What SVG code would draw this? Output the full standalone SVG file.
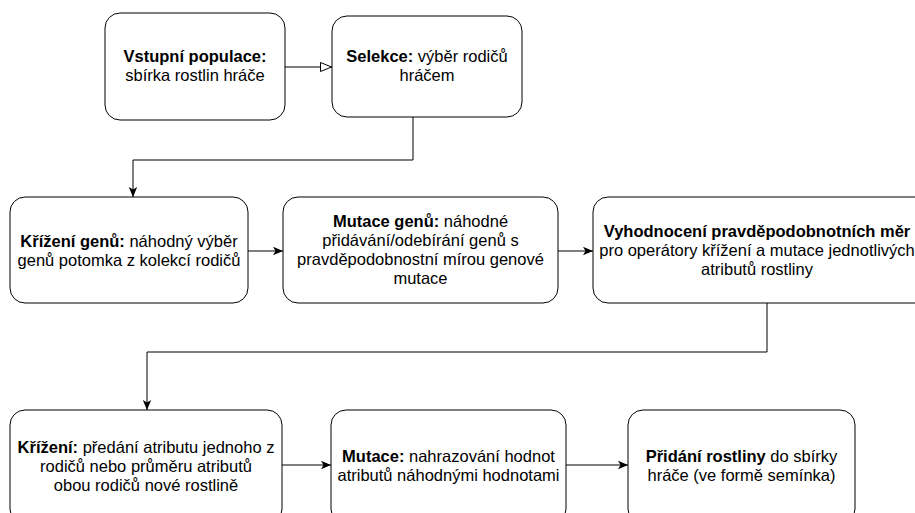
<svg xmlns="http://www.w3.org/2000/svg" width="915" height="513" viewBox="0 0 915 513">
<style>
.n{fill:#fff;stroke:#000;stroke-width:1}
.t{font-family:"Liberation Sans",Arial,sans-serif;font-size:16.5px;fill:#000;text-anchor:middle}
.b{font-weight:bold}
.e{fill:none;stroke:#000;stroke-width:1}
</style>
<defs>
<marker id="open" viewBox="0 0 12 10" refX="12" refY="5" markerWidth="12" markerHeight="10" markerUnits="userSpaceOnUse" orient="auto">
<path d="M0.5,0.5 L11.5,5 L0.5,9.5 Z" fill="#fff" stroke="#000" stroke-width="1"/>
</marker>
<marker id="cls" viewBox="0 0 10 10" refX="10" refY="5" markerWidth="10" markerHeight="10" markerUnits="userSpaceOnUse" orient="auto">
<path d="M0,0.8 L10,5 L0,9.2 L2.5,5 Z" fill="#000"/>
</marker>
</defs>
<g id="connectors">
<path class="e" d="M285,67 H332" marker-end="url(#open)"/>
<path class="e" d="M413,117 V160 H133 V197" marker-end="url(#cls)"/>
<path class="e" d="M248,251 H283" marker-end="url(#cls)"/>
<path class="e" d="M558,251 H593" marker-end="url(#cls)"/>
<path class="e" d="M767,303 V352 H147 V410" marker-end="url(#cls)"/>
<path class="e" d="M282,465 H331" marker-end="url(#cls)"/>
<path class="e" d="M566,465 H628" marker-end="url(#cls)"/>
</g>
<g id="node-vstup">
<rect class="n" x="105" y="13" width="180" height="107" rx="15"/>
<text class="t" x="195" y="62"><tspan class="b">Vstupní populace:</tspan></text>
<text class="t" x="195" y="81">sbírka rostlin hráče</text>
</g>
<g id="node-selekce">
<rect class="n" x="332" y="16" width="190" height="101" rx="15"/>
<text class="t" x="427" y="62"><tspan class="b">Selekce:</tspan> výběr rodičů</text>
<text class="t" x="427" y="81">hráčem</text>
</g>
<g id="node-krizeni-genu">
<rect class="n" x="10" y="197" width="238" height="106" rx="15"/>
<text class="t" x="129" y="247"><tspan class="b">Křížení genů:</tspan> náhodný výběr</text>
<text class="t" x="129" y="266">genů potomka z kolekcí rodičů</text>
</g>
<g id="node-mutace-genu">
<rect class="n" x="283" y="197" width="275" height="106" rx="15"/>
<text class="t" x="420.5" y="227"><tspan class="b">Mutace genů:</tspan> náhodné</text>
<text class="t" x="420.5" y="246">přidávání/odebírání genů s</text>
<text class="t" x="420.5" y="265">pravděpodobnostní mírou genové</text>
<text class="t" x="420.5" y="284">mutace</text>
</g>
<g id="node-vyhodnoceni">
<rect class="n" x="593" y="197" width="348" height="106" rx="15"/>
<text class="t" x="757" y="237"><tspan class="b">Vyhodnocení pravděpodobnotních měr</tspan></text>
<text class="t" x="757" y="256">pro operátory křížení a mutace jednotlivých</text>
<text class="t" x="757" y="275">atributů rostliny</text>
</g>
<g id="node-krizeni">
<rect class="n" x="10" y="410" width="272" height="114" rx="15"/>
<text class="t" x="146" y="453"><tspan class="b">Křížení:</tspan> předání atributu jednoho z</text>
<text class="t" x="146" y="472">rodičů nebo průměru atributů</text>
<text class="t" x="146" y="491">obou rodičů nové rostlině</text>
</g>
<g id="node-mutace">
<rect class="n" x="331" y="410" width="235" height="114" rx="15"/>
<text class="t" x="448.5" y="462"><tspan class="b">Mutace:</tspan> nahrazování hodnot</text>
<text class="t" x="448.5" y="481">atributů náhodnými hodnotami</text>
</g>
<g id="node-pridani">
<rect class="n" x="628" y="410" width="227" height="114" rx="15"/>
<text class="t" x="741.5" y="462"><tspan class="b">Přidání rostliny</tspan> do sbírky</text>
<text class="t" x="741.5" y="481">hráče (ve formě semínka)</text>
</g>
</svg>
